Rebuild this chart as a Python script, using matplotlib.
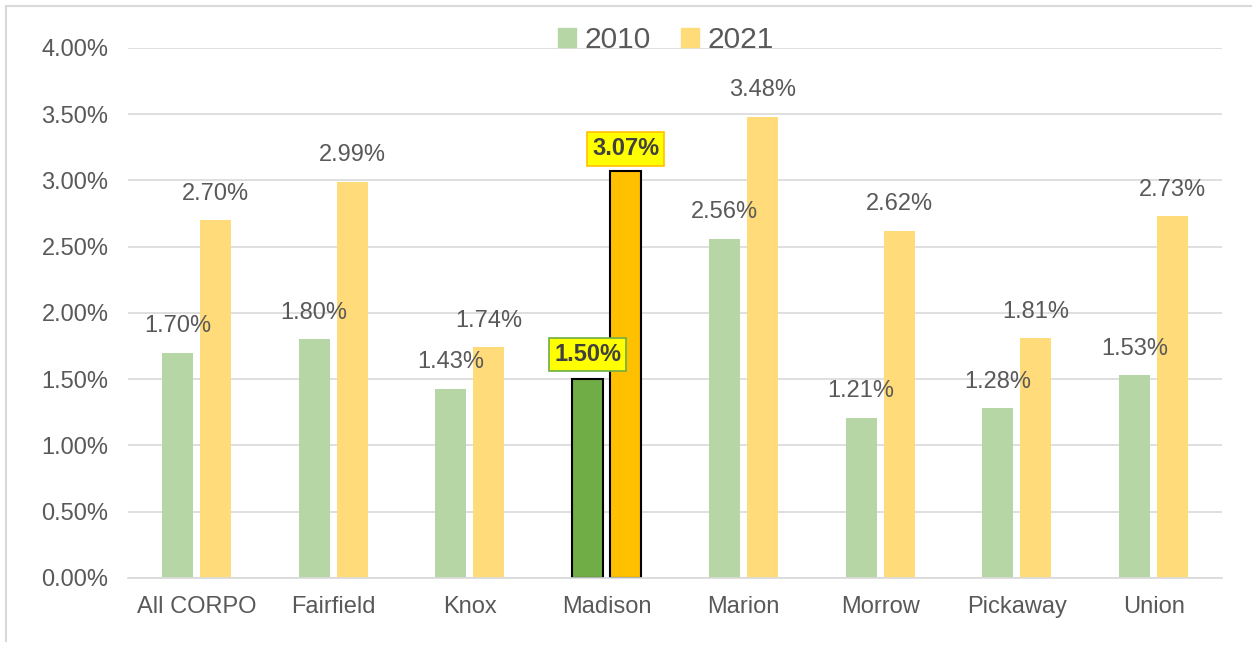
import numpy as np
import matplotlib
matplotlib.use("Agg")
from matplotlib import pyplot as plt
from matplotlib.lines import Line2D
from matplotlib.patches import Patch

# --- Data ---
counties = ["All CORPO", "Fairfield", "Knox", "Madison", "Marion",
            "Morrow", "Pickaway", "Union"]
vals_2010 = [1.70, 1.80, 1.43, 1.50, 2.56, 1.21, 1.28, 1.53]
vals_2021 = [2.70, 2.99, 1.74, 3.07, 3.48, 2.62, 1.81, 2.73]
yticks = [0.0, 0.5, 1.0, 1.5, 2.0, 2.5, 3.0, 3.5, 4.0]
highlight = "Madison"

# --- Style ---
plt.rcParams["font.family"] = ["Liberation Sans", "DejaVu Sans"]
GREEN_LIGHT = "#B6D7A5"
YELLOW_LIGHT = "#FFDB7A"
GREEN = "#70AD47"
YELLOW = "#FFC000"
TEXT = "#595959"
GRID = "#D9D9D9"
FS = 17

fig = plt.figure(figsize=(12.52, 6.45), dpi=100)
ax = fig.add_axes([0.1022, 0.1039, 0.8738, 0.8217])

x = np.arange(len(counties))
w = 0.227
off = 0.139

for i, name in enumerate(counties):
    hl = name == highlight
    ax.bar(x[i] - off, vals_2010[i], w, color=GREEN if hl else GREEN_LIGHT,
           edgecolor="black" if hl else "none", linewidth=1.5 if hl else 0, zorder=2)
    ax.bar(x[i] + off, vals_2021[i], w, color=YELLOW if hl else YELLOW_LIGHT,
           edgecolor="black" if hl else "none", linewidth=1.5 if hl else 0, zorder=2)

# data labels
for i, name in enumerate(counties):
    for xi, v, edge in ((x[i] - off, vals_2010[i], GREEN), (x[i] + off, vals_2021[i], YELLOW)):
        if name == highlight:
            dy = 18 if edge == GREEN else 16
            ax.annotate(f"{v:.2f}%", (xi, v), xytext=(0, dy), textcoords="offset points",
                        ha="center", va="center", fontsize=FS, fontweight="bold",
                        color="#404040", zorder=4,
                        bbox=dict(boxstyle="square,pad=0.22", fc="#FFFF00", ec=edge, lw=1.2))
        else:
            ax.annotate(f"{v:.2f}%", (xi, v), xytext=(0, 19), textcoords="offset points",
                        ha="center", va="center", fontsize=FS, color=TEXT, zorder=4)

ax.set_xlim(-0.5, len(counties) - 0.5)
ax.set_ylim(0, 4.0)
ax.set_yticks(yticks)
ax.set_yticklabels([f"{t:.2f}%" for t in yticks], fontsize=FS, color=TEXT)
ax.set_xticks(x)
ax.set_xticklabels(counties, fontsize=FS, color=TEXT)
ax.tick_params(axis="x", length=0, pad=13)
ax.tick_params(axis="y", length=0, pad=14)
ax.grid(axis="y", color=GRID, linewidth=1.2, zorder=0)
ax.set_axisbelow(True)
for s in ["top", "right", "left"]:
    ax.spines[s].set_visible(False)
ax.spines["bottom"].set_color(GRID)
ax.spines["bottom"].set_linewidth(1.2)

handles = [Patch(color=GREEN_LIGHT), Patch(color=YELLOW_LIGHT)]
leg = fig.legend(handles, ["2010", "2021"], loc="center", bbox_to_anchor=(0.532, 0.938),
                 ncol=2, frameon=False, fontsize=21.5, handlelength=0.6, handleheight=0.6,
                 handletextpad=0.3, columnspacing=1.0)
for t in leg.get_texts():
    t.set_color(TEXT)

# outer frame lines (top and left)
fig.add_artist(Line2D([6 / 1252, 1], [1 - 6 / 645, 1 - 6 / 645], color=GRID, lw=1.5,
                      transform=fig.transFigure))
fig.add_artist(Line2D([6 / 1252, 6 / 1252], [1 - 6 / 645, 1 - 641 / 645], color=GRID, lw=1.5,
                      transform=fig.transFigure))

fig.savefig("out.png", dpi=100)
